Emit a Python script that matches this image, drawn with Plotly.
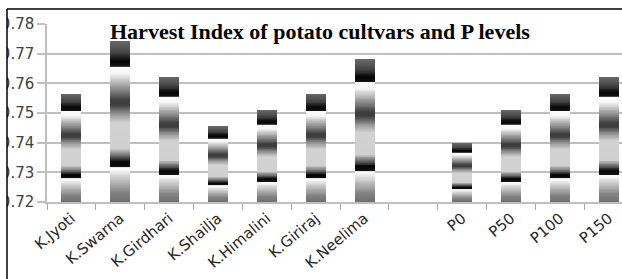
import plotly.graph_objects as go
import numpy as np

# ---------------- data ----------------
categories = ["K.Jyoti", "K.Swarna", "K.Girdhari", "K.Shailja", "K.Himalini",
              "K.Giriraj", "K.Neelima", " ", "P0", "P50", "P100", "P150"]
harvest_index = [0.7565, 0.7743, 0.7622, 0.7455, 0.7510,
                 0.7565, 0.7681, None, 0.7398, 0.7510, 0.7565, 0.7622]
y_tick_values = [0.72, 0.73, 0.74, 0.75, 0.76, 0.77, 0.78]
y_tick_labels = ["0.72", "0.73", "0.74", "0.75", "0.76", "0.77", "0.78"]
title_text = "Harvest Index of potato cultvars and P levels"

# ---------------- style ----------------
Y_MIN, Y_MAX = 0.72, 0.78
# gradient fill of each bar (fraction of visible bar from bottom, gray level)
GRADIENT = [
    (0.00, 112), (0.06, 130), (0.17, 218), (0.205, 252), (0.215, 252),
    (0.222, 15), (0.25, 5), (0.29, 110), (0.335, 208), (0.49, 210),
    (0.55, 140), (0.60, 62), (0.63, 62), (0.70, 140), (0.78, 228),
    (0.80, 248), (0.835, 250), (0.842, 20), (0.875, 5), (0.93, 70),
    (1.00, 105),
]
N_SLICES = 160
gt = [g[0] for g in GRADIENT]
gv = [g[1] for g in GRADIENT]

W, H = 622, 279
ML, MR, MT, MB = 47, 0, 24, 77
plot_w = W - ML - MR
plot_h = H - MT - MB

fig = go.Figure()
for k in reversed(range(N_SLICES)):
    frac = (k + 1) / N_SLICES
    t_mid = (k + 0.5) / N_SLICES
    g = int(round(np.interp(t_mid, gt, gv)))
    heights = [None if v is None else (v - Y_MIN) * frac for v in harvest_index]
    fig.add_trace(go.Bar(
        x=categories, y=heights, base=Y_MIN, width=0.41,
        marker=dict(color=f"rgb({g},{g},{g})", line=dict(width=0)),
        showlegend=False, hoverinfo="skip",
    ))

grid_col = "#bfbfbf"
fig.update_layout(
    width=W, height=H,
    margin=dict(l=ML, r=MR, t=MT, b=MB, pad=0),
    paper_bgcolor="white", plot_bgcolor="white",
    barmode="overlay", bargap=0,
    showlegend=False,
    xaxis=dict(
        type="category", categoryorder="array", categoryarray=categories,
        range=[-0.5, -0.5 + plot_w / 48.85],
        showgrid=False, zeroline=False,
        showline=True, linecolor=grid_col, linewidth=1.5,
        ticks="outside", tickson="boundaries", ticklen=6, tickcolor="#a6a6a6",
        tickwidth=1,
        tickangle=-40,
        tickfont=dict(family="DejaVu Sans", size=15, color="#262626"),
    ),
    yaxis=dict(
        range=[Y_MIN, Y_MAX],
        tickvals=y_tick_values, ticktext=y_tick_labels,
        showgrid=True, gridcolor=grid_col, gridwidth=1.5,
        zeroline=False,
        showline=True, linecolor=grid_col, linewidth=1.5,
        ticks="outside", ticklen=8, tickcolor=grid_col, tickwidth=1.5,
        tickfont=dict(family="DejaVu Sans", size=15, color="#404040"),
    ),
)

def px_x(px):
    return (px - ML) / plot_w

def px_y(py):
    return 1 - (py - MT) / plot_h

fig.add_annotation(
    text=f"<b>{title_text}</b>", x=px_x(320), y=px_y(31.5),
    xref="paper", yref="paper", xanchor="center", yanchor="middle",
    showarrow=False,
    font=dict(family="Liberation Serif", size=22, color="black"),
)

# cropped-frame look: white strip on the far left, black frame lines
fig.add_shape(type="rect", xref="paper", yref="paper",
              x0=px_x(-2), x1=px_x(7), y0=px_y(H + 2), y1=px_y(-2),
              fillcolor="white", line=dict(width=0), layer="above")
fig.add_shape(type="line", xref="paper", yref="paper",
              x0=px_x(7), x1=px_x(7), y0=px_y(H + 2), y1=px_y(9),
              line=dict(color="black", width=1.5), layer="above")
fig.add_shape(type="line", xref="paper", yref="paper",
              x0=px_x(7), x1=px_x(W + 2), y0=px_y(9), y1=px_y(9),
              line=dict(color="black", width=1.5), layer="above")

fig.write_html(
    "out.html",
    config={"displayModeBar": False},
    post_script="document.body.style.margin='0';document.body.style.overflow='hidden';",
)
